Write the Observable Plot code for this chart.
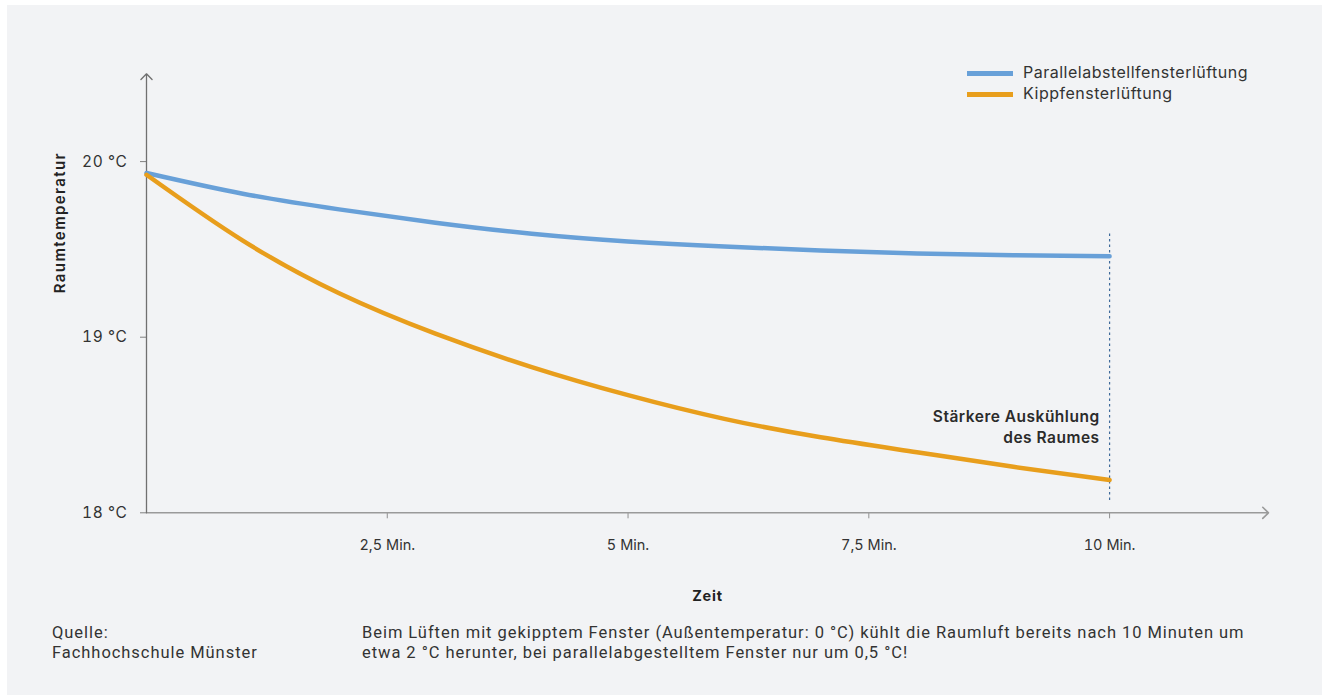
<!DOCTYPE html>
<html>
<head>
<meta charset="utf-8">
<script src="https://cdn.jsdelivr.net/npm/d3@7"></script>
<script src="https://cdn.jsdelivr.net/npm/@observablehq/plot@0.6"></script>
<style>
  html, body { margin: 0; padding: 0; background: #ffffff; }
  #panel { position: absolute; left: 7px; top: 5px; width: 1315px; height: 690px; background: #f2f3f5; overflow: hidden; }
  #chart { position: absolute; left: 0; top: 0; }
  .legend { position: absolute; left: 960px; top: 57px; font-family: Inter, sans-serif; font-size: 16px; letter-spacing: 0.5px; color: #333; }
  .legend .row { position: relative; height: 21px; line-height: 21px; white-space: nowrap; }
  .legend .sw { position: absolute; left: 0; top: 9px; width: 46px; height: 5px; }
  .legend .lab { position: absolute; left: 56px; top: 0; }
  .caption { position: absolute; font-family: Roboto, sans-serif; font-size: 16.5px; letter-spacing: 0.95px; color: #333; line-height: 20px; white-space: nowrap; }
</style>
</head>
<body>
<div id="panel">
  <div id="chart"></div>
  <div class="legend" id="legend"></div>
  <div class="caption" id="source" style="left:45px; top:618px;"></div>
  <div class="caption" id="desc" style="left:355px; top:618px;"></div>
</div>
<script>
// ---- data ----
const minutes = [0, 1, 2, 3, 4, 5, 6, 7, 8, 9, 10];
const parallelTemps = [19.935, 19.817, 19.728, 19.652, 19.589, 19.545, 19.516, 19.494, 19.477, 19.467, 19.461];
const kippTemps = [19.925, 19.55, 19.25, 19.02, 18.83, 18.67, 18.535, 18.43, 18.345, 18.262, 18.187];
const seriesNames = ["Parallelabstellfensterlüftung", "Kippfensterlüftung"];
const seriesColors = ["#68a0d8", "#e89e1c"];
const xTicks = [2.5, 5, 7.5, 10];
const xTickLabels = ["2,5 Min.", "5 Min.", "7,5 Min.", "10 Min."];
const yTicks = [18, 19, 20];
const yTickLabels = ["18 °C", "19 °C", "20 °C"];
const xDomain = [0, 11.65];
const yDomain = [18, 20.5];
const markerX = [10];
const markerRange = [18.07, 19.59];
const annotation = [{x: 10, y: 18.6, text: "Stärkere Auskühlung\ndes Raumes"}];
const xTitle = "Zeit";
const yTitle = "Raumtemperatur";
const sourceLines = ["Quelle:", "Fachhochschule Münster"];
const descLines = [
  "Beim Lüften mit gekipptem Fenster (Außentemperatur: 0 °C) kühlt die Raumluft bereits nach 10 Minuten um",
  "etwa 2 °C herunter, bei parallelabgestelltem Fenster nur um 0,5 °C!"
];

// ---- build table ----
const rows = [];
minutes.forEach((m, i) => {
  rows.push({minute: m, temp: parallelTemps[i], series: seriesNames[0]});
  rows.push({minute: m, temp: kippTemps[i], series: seriesNames[1]});
});
const axisArrows = [
  {x1: xDomain[0], y1: yDomain[0], x2: xDomain[1], y2: yDomain[0], c: "#9a9a9a", w: 1.6},
  {x1: xDomain[0], y1: yDomain[0], x2: xDomain[0], y2: yDomain[1], c: "#707070", w: 1.3}
];
const font = "Inter, sans-serif";

const chart = Plot.plot({
  width: 1315,
  height: 600,
  marginLeft: 139,
  marginRight: 54,
  marginTop: 68.3,
  marginBottom: 92.7,
  style: {background: "transparent", fontFamily: font, fontSize: "14.5px", color: "#333"},
  x: {domain: xDomain},
  y: {domain: yDomain},
  color: {domain: seriesNames, range: seriesColors},
  marks: [
    Plot.axisY({ticks: yTicks, tickFormat: d => yTickLabels[yTicks.indexOf(d)], tickSize: 6, tickPadding: 13, stroke: "#808080", fill: "#333", label: null, fontSize: 15.5, ariaDescription: "ytl"}),
    Plot.axisX({ticks: xTicks, tickFormat: d => xTickLabels[xTicks.indexOf(d)], tickSize: 6, tickPadding: 21, stroke: "#909090", fill: "#333", label: null, fontSize: 14.5}),
    Plot.arrow(axisArrows, {x1: "x1", y1: "y1", x2: "x2", y2: "y2", stroke: "c", strokeWidth: "w", headLength: 12, headAngle: 88}),
    Plot.ruleX(markerX, {x: d => d, y1: markerRange[0], y2: markerRange[1], stroke: "#3f6a9a", strokeWidth: 1.2, strokeDasharray: "2.5,3"}),
    Plot.line(rows, {x: "minute", y: "temp", stroke: "series", z: "series", strokeWidth: 4.5, curve: "natural"}),
    Plot.text(annotation, {x: "x", y: "y", text: "text", textAnchor: "end", lineAnchor: "top", dx: -10, fontSize: 15.5, fontWeight: 600, lineHeight: 1.34, fill: "#2b2b2b", ariaDescription: "annot"}),
    Plot.text([xTitle], {text: d => d, frameAnchor: "bottom", dy: 88, fontWeight: 700, fontSize: 14.5, fill: "#222", ariaDescription: "xtitle"}),
    Plot.text([yTitle], {text: d => d, frameAnchor: "left", dx: -86, rotate: -90, fontWeight: 600, fontSize: 15, fill: "#222", ariaDescription: "ytitle"})
  ]
});
d3.select(chart).selectAll('[aria-description="annot"]').style("letter-spacing", "0.5px");
d3.select(chart).selectAll('[aria-description="ytitle"]').style("letter-spacing", "1.4px");
d3.select(chart).selectAll('[aria-description="xtitle"]').style("letter-spacing", "0.8px");
d3.select(chart).selectAll('[aria-description="ytl"]').style("letter-spacing", "0.6px");
document.getElementById("chart").appendChild(chart);

const legend = document.getElementById("legend");
seriesNames.forEach((n, i) => {
  const row = document.createElement("div");
  row.className = "row";
  row.innerHTML = `<span class="sw" style="background:${seriesColors[i]}"></span><span class="lab">${n}</span>`;
  legend.appendChild(row);
});
document.getElementById("source").innerHTML = sourceLines.join("<br>");
document.getElementById("desc").innerHTML = descLines.join("<br>");
</script>
</body>
</html>
